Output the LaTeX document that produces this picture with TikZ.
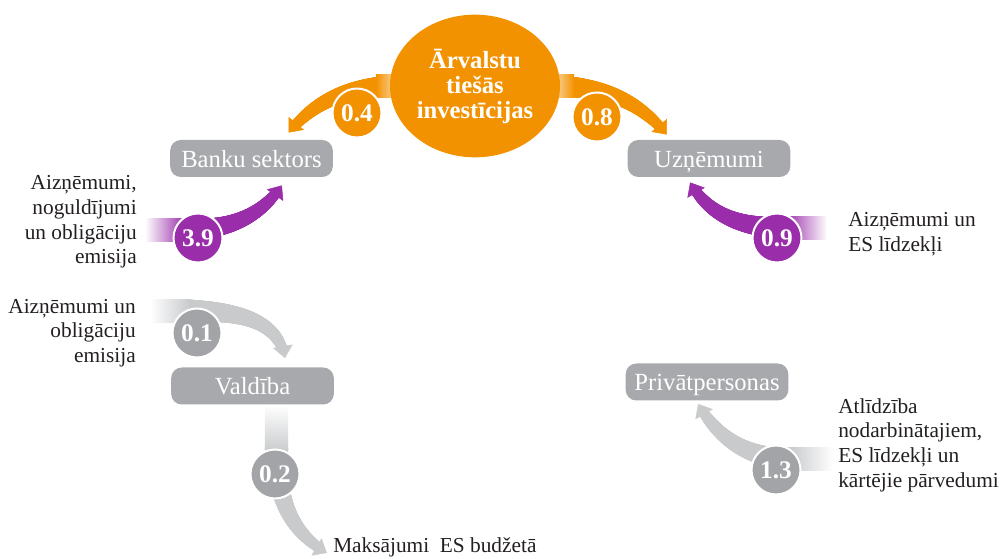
\documentclass[tikz,border=0pt]{standalone}
\usepackage{fontspec}
\setmainfont{Liberation Serif}
\usetikzlibrary{positioning,arrows.meta,shapes.geometric,calc,backgrounds,decorations.markings}
\definecolor{fdiorange}{HTML}{F39200}
\definecolor{fdipurple}{HTML}{9A2DAA}
\definecolor{fdibox}{HTML}{A7A9AC}
\definecolor{fdigray}{HTML}{A2A4A7}
\definecolor{fdiband}{HTML}{C8CACC}
\definecolor{fdinote}{HTML}{231F20}

\begin{document}
\begin{tikzpicture}[
  x=0.75pt, y=0.75pt,
  sbox/.style={fill=fdibox, rounded corners=8pt, text=white, inner sep=0pt,
               minimum width=122pt, minimum height=27.75pt,
               text height=13pt, text depth=0pt, font=\fontsize{18.5}{20}\selectfont},
  hub/.style={ellipse, fill=fdiorange, text=white, inner sep=0pt, align=center,
              minimum width=127.5pt, minimum height=107pt,
              font=\bfseries\fontsize{18.5}{18.75}\selectfont},
  amt/.style={circle, draw=white, line width=1.5pt, minimum size=36.75pt,
              inner sep=0pt, text=white, font=\bfseries\fontsize{19}{20}\selectfont},
  note/.style={inner sep=0pt, text=fdinote, font=\fontsize{16}{18.5}\selectfont},
  band/.style={postaction={decorate, decoration={markings,
      mark=between positions 0 and 0.93 step 0.5pt with {
        \pgfmathsetmacro\bandr{8.75-5.3*\pgfkeysvalueof{/pgf/decoration/mark info/distance from start}/\pgfdecoratedpathlength}
        \fill[#1] (0pt,0pt) circle[radius=\bandr pt];},
      mark=at position 1 with {\arrow[#1]{Triangle[length=9pt,width=15pt]}}}}}
]
\useasboundingbox (0,0) rectangle (1007,-559);

% sectors
\node[hub] (tiv) at (475,-86) {Ārvalstu\\tiešās\\investīcijas};
\node[sbox] (banku) at (251.5,-158.5) {Banku sektors};
\node[sbox] (uzn)   at (709,-158.5)   {Uzņēmumi};
\node[sbox] (vald)  at (252.5,-386)   {Valdība};
\node[sbox] (priv)  at (707,-382)     {Privātpersonas};

% amounts
\node[amt, fill=fdiorange] (n04) at (357,-113) {0.4};
\node[amt, fill=fdiorange] (n08) at (597,-117) {0.8};
\node[amt, fill=fdipurple] (n39) at (198,-238) {3.9};
\node[amt, fill=fdipurple] (n09) at (777,-238) {0.9};
\node[amt, fill=fdigray]   (n01) at (197,-333) {0.1};
\node[amt, fill=fdigray]   (n02) at (275,-474) {0.2};
\node[amt, fill=fdigray]   (n13) at (776,-470) {1.3};

% side notes
\node[note, anchor=east, align=right] (l39) at (137,-222)
  {Aizņēmumi,\\noguldījumi\\un obligāciju\\emisija};
\node[note, anchor=east, align=right] (l01) at (136,-333)
  {Aizņēmumi un\\obligāciju\\emisija};
\node[note, anchor=west, align=left] (l09) at (848,-234)
  {Aizņēmumi un\\ES līdzekļi};
\node[note, anchor=west, align=left] (l13) at (838,-445)
  {Atlīdzība\\nodarbinātajiem,\\ES līdzekļi un\\kārtējie pārvedumi};
\node[note, anchor=base west] (maks) at (333,-552) {Maksājumi\ \ ES budžetā};

% flows
\begin{scope}[on background layer]
  \path[band=fdiorange] ($(tiv.west)+(14,0)$) to[out=180,in=50] ($(banku.north)+(37,7)$);
  \shade[left color=fdiorange, right color=fdiorange!45!white] (376,-74.3) rectangle (393,-97.7);
  \path[band=fdiorange] ($(tiv.east)+(-14,0)$) to[out=0,in=130] ($(uzn.north)+(-42,5)$);
  \shade[left color=fdiorange!45!white, right color=fdiorange] (557,-74.3) rectangle (574,-97.7);

  \coordinate (s39) at (180,-230);
  \path[band=fdipurple] (s39) to[out=0,in=-125] ($(banku.south)+(30.5,-8)$);
  \shade[left color=white, right color=fdipurple] (145,-218.3) rectangle (185,-241.7);

  \coordinate (s09) at (790,-228);
  \path[band=fdipurple] (s09) to[out=180,in=-60] ($(uzn.south)+(-19,-5)$);
  \shade[left color=fdipurple, right color=white] (785,-216.3) rectangle (827,-239.7);

  \coordinate (s01) at (186,-311);
  \path[band=fdiband] (s01) to[out=0,in=100] ($(vald.north)+(32.5,9)$);
  \shade[left color=white, right color=fdiband] (150,-299.3) rectangle (190,-322.7);

  \coordinate (s02) at (276.5,-448);
  \path[band=fdiband] (s02) to[out=-90,in=150] ($(maks.base west)+(-6,-1)$);
  \shade[top color=white, bottom color=fdiband] (264.8,-405) rectangle (288.2,-452);

  \coordinate (s13) at (795,-459);
  \path[band=fdiband] (s13) to[out=180,in=-60] ($(priv.south)+(-9,-3)$);
  \shade[left color=fdiband, right color=white] (790,-447.3) rectangle (833,-470.7);
\end{scope}
\end{tikzpicture}
\end{document}
